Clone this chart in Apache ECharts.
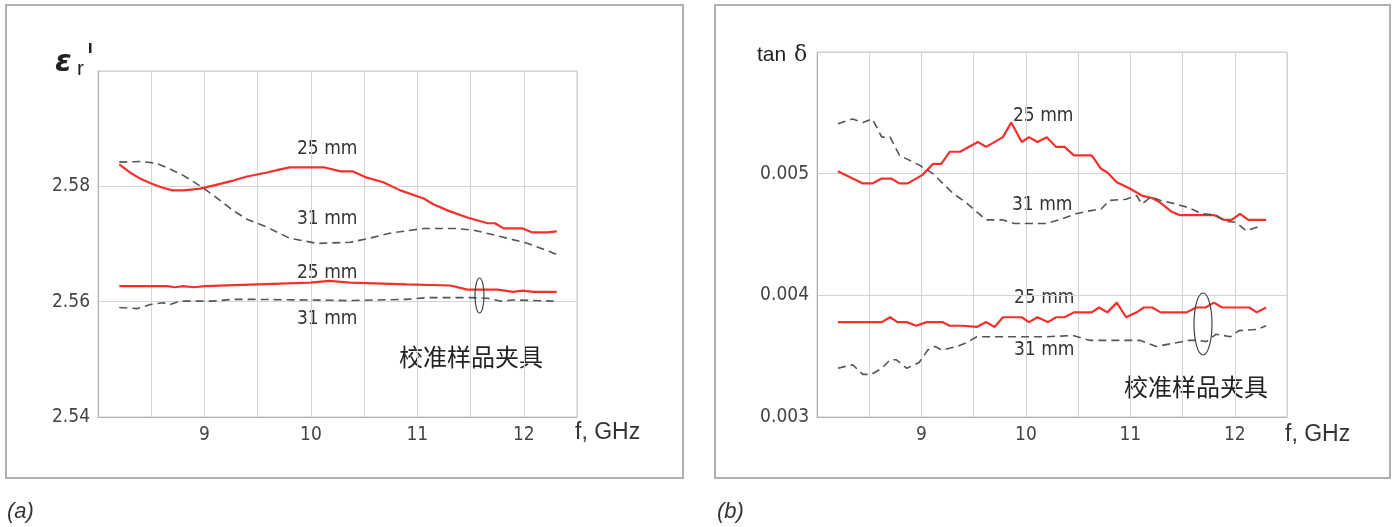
<!DOCTYPE html>
<html><head><meta charset="utf-8">
<script src="https://cdn.jsdelivr.net/npm/echarts@6/dist/echarts.min.js"></script>
<style>html,body{margin:0;padding:0;background:#fff}#c{width:1395px;height:527px}</style>
</head><body><div id="c"></div>
<script>
// ---------- (a) permittivity ----------
const freqA25Up = [8.2,8.3,8.4,8.5,8.6,8.7,8.8,8.96,9.1,9.27,9.4,9.59,9.7,9.8,9.95,10.12,10.28,10.39,10.51,10.68,10.84,11.06,11.15,11.3,11.47,11.66,11.73,11.81,11.99,12.08,12.22,12.31];
const epsA25Up  = [2.5838,2.5824,2.5813,2.5805,2.5798,2.5793,2.5793,2.5796,2.5802,2.5810,2.5817,2.5824,2.5829,2.5833,2.5833,2.5833,2.5826,2.5826,2.5816,2.5807,2.5793,2.5779,2.5769,2.5757,2.5746,2.5736,2.5736,2.5727,2.5727,2.5720,2.5720,2.5722];
const freqA31Up = [8.2,8.4,8.55,8.7,8.8,8.99,9.1,9.27,9.4,9.59,9.8,10.06,10.37,10.55,10.75,11.06,11.22,11.35,11.53,11.78,12.04,12.31];
const epsA31Up  = [2.5842,2.5843,2.5840,2.5828,2.5819,2.5797,2.5782,2.5758,2.5743,2.5729,2.5710,2.5701,2.5703,2.5710,2.5719,2.5727,2.5727,2.5727,2.5724,2.5713,2.5701,2.5682];
const freqA25Lo = [8.2,8.65,8.72,8.8,8.9,9.0,9.5,10.0,10.17,10.37,10.9,11.31,11.47,11.75,11.9,11.99,12.09,12.31];
const epsA25Lo  = [2.5627,2.5627,2.5625,2.5627,2.5625,2.5627,2.5630,2.5633,2.5636,2.5633,2.5630,2.5628,2.5621,2.5621,2.5617,2.5619,2.5617,2.5617];
const freqA31Lo = [8.2,8.37,8.49,8.61,8.68,8.77,9.08,9.27,9.46,10.37,10.9,11.09,11.5,11.66,11.78,11.9,12.28];
const epsA31Lo  = [2.5590,2.5588,2.5595,2.5598,2.5595,2.5601,2.5601,2.5604,2.5604,2.5602,2.5604,2.5607,2.5607,2.5606,2.5601,2.5603,2.5601];
// ---------- (b) loss tangent ----------
const freqB25Up = [8.2,8.44,8.53,8.62,8.71,8.79,8.87,9.01,9.11,9.19,9.27,9.37,9.54,9.62,9.78,9.86,9.96,10.03,10.11,10.2,10.29,10.37,10.46,10.63,10.72,10.78,10.87,10.99,11.11,11.21,11.29,11.39,11.47,11.8,11.9,11.97,12.05,12.13,12.3];
const tanB25Up  = [0.00502,0.00492,0.00492,0.00496,0.00496,0.00492,0.00492,0.00499,0.00508,0.00508,0.00518,0.00518,0.00526,0.00522,0.0053,0.00542,0.00526,0.0053,0.00526,0.0053,0.00522,0.00522,0.00515,0.00515,0.00504,0.00501,0.00493,0.00488,0.00482,0.0048,0.00476,0.00469,0.00466,0.00466,0.00462,0.00462,0.00467,0.00462,0.00462];
const freqB31Up = [8.2,8.34,8.44,8.53,8.62,8.7,8.79,8.98,9.11,9.3,9.43,9.62,9.78,9.89,10.2,10.35,10.48,10.58,10.72,10.8,10.96,11.06,11.11,11.2,11.29,11.44,11.56,11.69,11.82,11.9,12.01,12.11,12.21,12.25];
const tanB31Up  = [0.00541,0.00545,0.00542,0.00545,0.0053,0.0053,0.00515,0.00507,0.005,0.00484,0.00476,0.00462,0.00462,0.00459,0.00459,0.00463,0.00467,0.00469,0.00471,0.00478,0.00479,0.00482,0.00475,0.00481,0.00478,0.00475,0.00472,0.00467,0.00466,0.00461,0.0046,0.00453,0.00456,0.00453];
const freqB25Lo = [8.2,8.62,8.7,8.77,8.86,8.95,9.05,9.2,9.27,9.39,9.53,9.62,9.7,9.78,9.96,10.03,10.11,10.21,10.29,10.37,10.46,10.63,10.7,10.78,10.87,10.96,11.06,11.13,11.21,11.29,11.54,11.63,11.72,11.8,11.88,12.14,12.21,12.3];
const tanB25Lo  = [0.00378,0.00378,0.00382,0.00378,0.00378,0.00375,0.00378,0.00378,0.00375,0.00375,0.00374,0.00378,0.00374,0.00382,0.00382,0.00378,0.00382,0.00378,0.00382,0.00382,0.00386,0.00386,0.0039,0.00386,0.00394,0.00382,0.00386,0.0039,0.0039,0.00386,0.00386,0.0039,0.0039,0.00394,0.0039,0.0039,0.00386,0.0039];
const freqB31Lo = [8.2,8.34,8.44,8.52,8.62,8.7,8.76,8.86,8.98,9.06,9.13,9.2,9.34,9.43,9.53,10.2,10.45,10.61,11.09,11.25,11.56,11.63,11.73,11.82,11.96,12.04,12.21,12.3];
const tanB31Lo  = [0.0034,0.00343,0.00335,0.00335,0.0034,0.00347,0.00347,0.0034,0.00345,0.00355,0.00358,0.00355,0.00358,0.00361,0.00366,0.00366,0.00367,0.00363,0.00363,0.00358,0.00363,0.00363,0.00362,0.00368,0.00366,0.00371,0.00372,0.00375];

const xTickLabels = ['9','10','11','12'];
const yTickLabelsA = ['2.54','2.56','2.58'];
const yTickLabelsB = ['0.003','0.004','0.005'];
const seriesNames = ['25 mm','31 mm'];
const fixtureLabel = '校准样品夹具';

const zip = (xs, ys) => xs.map((x, i) => [x, ys[i]]);
const NARROW = "'DejaVu Sans Condensed','Liberation Sans Narrow',sans-serif";
const RED = '#f5302a', DARK = '#555';

function xAxis(gi) {
  return {
    type: 'value', gridIndex: gi, min: 8, max: 12.5, interval: 0.5,
    axisLine: {show: true, lineStyle: {color: '#b4b4b4', width: 1}},
    axisTick: {show: false},
    axisLabel: {
      color: '#444', fontFamily: NARROW, fontSize: 19, margin: 9,
      formatter: v => { const s = String(Math.round(v)); return (Math.abs(v - Math.round(v)) < 1e-6 && xTickLabels.includes(s)) ? s : ''; }
    },
    splitLine: {show: true, lineStyle: {color: '#d4d4d4', width: 1}}
  };
}
function yAxis(gi, min, max, interval, labels, dec) {
  return {
    type: 'value', gridIndex: gi, min, max, interval,
    axisLine: {show: true, lineStyle: {color: '#b4b4b4', width: 1}},
    axisTick: {show: false},
    axisLabel: {
      color: '#444', fontFamily: NARROW, fontSize: 19, margin: 8,
      formatter: v => { const s = v.toFixed(dec); return labels.includes(s) ? s : ''; }
    },
    splitLine: {show: true, lineStyle: {color: '#d4d4d4', width: 1}}
  };
}
function line(name, xi, data, dashed) {
  return {
    type: 'line', name, xAxisIndex: xi, yAxisIndex: xi, data, symbol: 'none', smooth: false,
    lineStyle: dashed ? {color: DARK, width: 1.6, type: [8, 5]} : {color: RED, width: 2.2},
    silent: true, animation: false
  };
}
function txt(x, y, text, style) {
  return {type: 'text', x, y, style: Object.assign({text, fill: '#333', font: "19px " + NARROW, verticalAlign: 'middle', align: 'left'}, style || {}), silent: true};
}

const chart = echarts.init(document.getElementById('c'), null, {renderer: 'canvas'});
chart.setOption({
  animation: false,
  backgroundColor: '#fff',
  grid: [
    {left: 98, top: 71, width: 479, height: 346, show: true, borderColor: '#c8c8c8', borderWidth: 1},
    {left: 817, top: 52, width: 470, height: 365, show: true, borderColor: '#c8c8c8', borderWidth: 1}
  ],
  xAxis: [xAxis(0), xAxis(1)],
  yAxis: [yAxis(0, 2.54, 2.60, 0.02, yTickLabelsA, 2), yAxis(1, 0.003, 0.006, 0.001, yTickLabelsB, 3)],
  series: [
    line(seriesNames[0], 0, zip(freqA25Up, epsA25Up), false),
    line(seriesNames[1], 0, zip(freqA31Up, epsA31Up), true),
    line(seriesNames[0], 0, zip(freqA25Lo, epsA25Lo), false),
    line(seriesNames[1], 0, zip(freqA31Lo, epsA31Lo), true),
    line(seriesNames[0], 1, zip(freqB25Up, tanB25Up), false),
    line(seriesNames[1], 1, zip(freqB31Up, tanB31Up), true),
    line(seriesNames[0], 1, zip(freqB25Lo, tanB25Lo), false),
    line(seriesNames[1], 1, zip(freqB31Lo, tanB31Lo), true)
  ],
  graphic: [
    {type: 'rect', shape: {x: 6, y: 5, width: 677, height: 473}, style: {fill: 'none', stroke: '#b0b0b0', lineWidth: 2}, silent: true, z: -1},
    {type: 'rect', shape: {x: 715, y: 5, width: 675, height: 473}, style: {fill: 'none', stroke: '#b0b0b0', lineWidth: 2}, silent: true, z: -1},
    // axis titles (a)
    txt(55, 63, 'ε', {font: "italic bold 30px 'DejaVu Sans',sans-serif", fill: '#222'}),
    txt(77, 69, 'r', {font: "21px 'Liberation Sans',sans-serif", fill: '#222'}),
    {type: 'rect', shape: {x: 89, y: 43, width: 2.5, height: 10}, style: {fill: '#222'}, silent: true},
    txt(575, 433, 'f, GHz', {font: "23px 'Liberation Sans',sans-serif", fill: '#333'}),
    // axis titles (b)
    txt(757, 55, 'tan', {font: "21px 'Liberation Sans',sans-serif", fill: '#222'}),
    txt(794, 55, 'δ', {font: "22px 'DejaVu Serif',serif", fill: '#222'}),
    txt(1285, 435, 'f, GHz', {font: "23px 'Liberation Sans',sans-serif", fill: '#333'}),
    // curve labels (a)
    txt(297, 149, seriesNames[0]), txt(297, 219, seriesNames[1]),
    txt(297, 273, seriesNames[0]), txt(297, 319, seriesNames[1]),
    // curve labels (b)
    txt(1013, 116, seriesNames[0]), txt(1012, 205, seriesNames[1]),
    txt(1014, 298, seriesNames[0]), txt(1014, 350, seriesNames[1]),
    // fixture labels
    txt(399, 357, fixtureLabel, {font: "24px 'Noto Sans CJK SC',sans-serif", fill: '#222'}),
    txt(1124, 387, fixtureLabel, {font: "24px 'Noto Sans CJK SC',sans-serif", fill: '#222'}),
    {type: 'ellipse', shape: {cx: 479.5, cy: 295.5, rx: 4.5, ry: 17.5}, style: {fill: 'none', stroke: '#444', lineWidth: 1.2}, silent: true, z: 10},
    {type: 'ellipse', shape: {cx: 1203, cy: 324, rx: 9, ry: 31}, style: {fill: 'none', stroke: '#444', lineWidth: 1.2}, silent: true, z: 10},
    // panel tags
    txt(7, 512, '(a)', {font: "italic 22px 'Liberation Sans',sans-serif", fill: '#333'}),
    txt(717, 512, '(b)', {font: "italic 22px 'Liberation Sans',sans-serif", fill: '#333'})
  ]
});
</script></body></html>
